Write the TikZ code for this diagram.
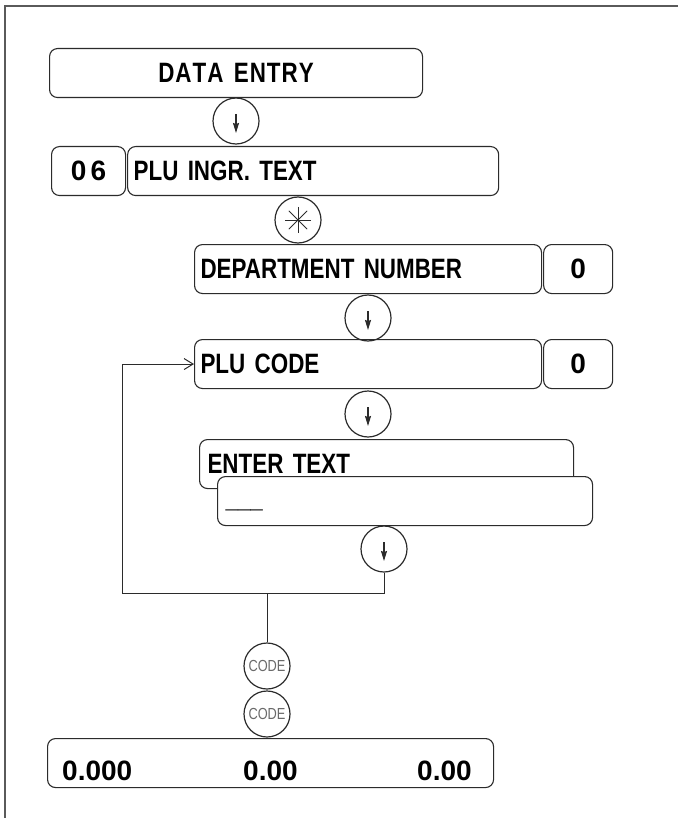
\documentclass[tikz,border=0pt]{standalone}
\usepackage{fontspec}
\usepackage{tikz}
\usepackage{xcolor}
\setmainfont{Liberation Sans}
\newfontfamily\condfont{Liberation Sans}[FakeStretch=0.8]
\usetikzlibrary{arrows.meta,positioning}
\definecolor{dispink}{HTML}{2B2B2B}
\definecolor{framegray}{HTML}{5A5A5A}
\definecolor{codegray}{HTML}{6A6A6A}
\tikzset{
  dispBox/.style={draw=dispink, line width=1.1pt, rounded corners=8pt, minimum height=49pt, inner xsep=6pt, inner ysep=0pt, anchor=north west, align=left, font=\condfont\bfseries\fontsize{28}{32}\selectfont},
  valBox/.style={draw=dispink, line width=1.1pt, rounded corners=8pt, minimum height=49pt, inner sep=0pt, align=center, font=\bfseries\fontsize{28}{32}\selectfont},
  keyBtn/.style={circle, draw=dispink, line width=1.2pt, minimum size=46pt, inner sep=0pt},
  downKey/.style={keyBtn, path picture={\draw[line width=1.2pt, -{Stealth[length=10pt,width=6pt,inset=1pt]}] ([yshift=7pt]path picture bounding box.center) -- ([yshift=-12pt]path picture bounding box.center);}},
  starKey/.style={keyBtn, path picture={\foreach \a in {0,45,90,135} \draw[line width=0.8pt] ([shift={(\a:13pt)}]path picture bounding box.center) -- ([shift={(\a+180:13pt)}]path picture bounding box.center);}},
  codeKey/.style={keyBtn, text=codegray, font=\condfont\fontsize{16}{18}\selectfont},
  loopLine/.style={draw=dispink, line width=1pt},
  numLabel/.style={anchor=base west, inner sep=0pt, font=\bfseries\fontsize{28}{32}\selectfont}
}

\begin{document}
\begin{tikzpicture}[x=1pt, y=-1pt]
  \useasboundingbox (0,0) rectangle (678,818);
  \draw[framegray, line width=1.8pt] (5,818) -- (5,6) -- (678,6);

  % display boxes
  \node[dispBox, text width=361pt, align=center] (entry) at (49,48) {D\kern1ptA\kern1ptT\kern1ptA\kern1pt\ E\kern1ptN\kern1ptT\kern1ptR\kern1ptY};
  \node[valBox, minimum width=74pt, anchor=north west] (group) at (51,146) {0\kern4pt6};
  \node[dispBox, text width=359pt, right=1pt of group.north east, anchor=north west] (ingr) {PLU INGR. TEXT};
  \node[dispBox, text width=335pt] (dept) at (194,244) {DEPARTMENT NUMBER};
  \node[valBox, minimum width=69pt, right=1pt of dept] (deptval) {0};
  \node[dispBox, text width=335pt] (plu) at (194,339) {PLU CODE};
  \node[valBox, minimum width=69pt, right=1pt of plu] (pluval) {0};
  \node[dispBox, text width=358pt, inner xsep=8pt] (prompt) at (199,439) {ENTER TEXT};
  \node[dispBox, fill=white, text width=359pt, inner xsep=8pt] (input) at (217,476) {\strut\_\_\_};
  \node[dispBox, text width=434pt] (total) at (47,738) {};
  \node[numLabel] (weight) at (62,780) {0.000};
  \node[numLabel] (price) at (243,780) {0.00};
  \node[numLabel] (amount) at (417,780) {0.00};

  % keys
  \node[downKey] (k1) at (236,121) {};
  \node[starKey] (k2) at (298,220) {};
  \node[downKey] (k3) at (368,318) {};
  \node[downKey] (k4) at (368,414) {};
  \node[downKey] (k5) at (384,549) {};
  \node[codeKey] (code1) at (267,666) {CODE};
  \node[codeKey] (code2) at (267,714) {CODE};

  % loop back to PLU CODE
  \coordinate (loopcorner) at (122,593);
  \draw[loopLine, -{Straight Barb[length=9pt,width=11pt]}] (k5.south) |- (loopcorner) |- (plu.west);
  \draw[loopLine] (code1.north) -- (code1.north |- loopcorner);
\end{tikzpicture}
\end{document}
